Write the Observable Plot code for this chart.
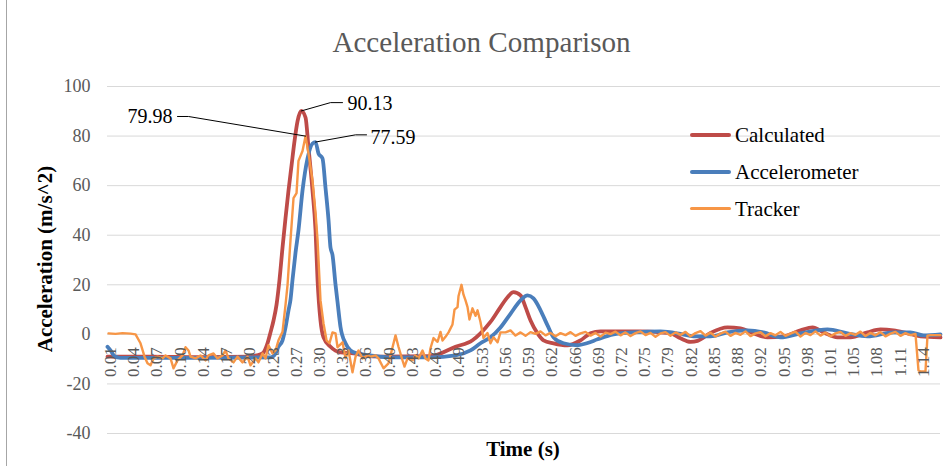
<!DOCTYPE html>
<html>
<head>
<meta charset="utf-8">
<script src="https://cdn.jsdelivr.net/npm/d3@7"></script>
<script src="https://cdn.jsdelivr.net/npm/@observablehq/plot@0.6"></script>
<style>
  html, body { margin: 0; padding: 0; background: #fff; }
  #wrap { position: relative; width: 943px; height: 466px; overflow: hidden; font-family: "Liberation Serif", serif; }
  #wrap .abs { position: absolute; white-space: nowrap; }
  #title { left: 0; width: 963px; top: 25px; text-align: center; font-size: 30px; color: #595959; line-height: 34px; transform: scaleX(0.97); }
  #ylab { left: 45px; top: 259px; transform: translate(-50%, -50%) rotate(-90deg); font-size: 21px; font-weight: bold; color: #000; }
  #xlab { left: 523px; top: 449px; transform: translate(-50%, -50%); font-size: 21px; font-weight: bold; color: #000; }
  .leg-line { position: absolute; left: 690px; width: 41px; border-radius: 2px; }
  .leg-text { position: absolute; left: 735px; font-size: 21px; color: #000; line-height: 24px; }
  #border { position: absolute; left: 6px; top: 0; width: 1px; height: 466px; background: #a6a6a6; }
</style>
</head>
<body>
<div id="wrap">
  <div id="chart"></div>
  <div id="border"></div>
  <div id="title" class="abs">Acceleration Comparison</div>
  <div id="ylab" class="abs">Acceleration (m/s^2)</div>
  <div id="xlab" class="abs">Time (s)</div>
  <div id="legend"></div>
</div>
<script>
// ---- Data (time in s, acceleration in m/s^2) ----
const seriesNames = ["Calculated", "Accelerometer", "Tracker"];
const seriesColors = ["#BE4B48", "#4A7EBB", "#F79646"];

const calculated = [
  [0.0058,-9],[0.0656,-9],[0.1351,-9.2],[0.2046,-9],[0.2130,-8.5],[0.2213,-7.7],[0.2282,-3.6],[0.2324,0.8],
  [0.2366,5.6],[0.2408,12],[0.2449,22],[0.2491,35],[0.2533,47],[0.2574,58],[0.2616,68],[0.2658,78],
  [0.2700,86],[0.2751,90.13],[0.2811,87.5],[0.2852,75.4],[0.2908,58],[0.2950,42],[0.2978,22],[0.3019,5.6],
  [0.3061,-1.2],[0.3158,-5],[0.3297,-7.3],[0.3478,-7.7],[0.3617,-8.5],[0.3853,-9],[0.4548,-8.8],[0.4896,-5],
  [0.5132,-2.4],[0.5243,0.4],[0.5382,5],[0.5521,11],[0.5619,15],[0.5702,17],[0.5800,15.7],[0.5869,11],
  [0.5939,5.6],[0.6036,0.4],[0.6119,-2.4],[0.6258,-3.6],[0.6452,-4.4],[0.6634,-2.4],[0.6772,0.4],[0.6912,1.2],
  [0.7190,1.2],[0.7468,1.2],[0.7746,0.8],[0.7885,0.4],[0.8024,-1.6],[0.8163,-3],[0.8260,-2.6],[0.8441,0.6],
  [0.8677,2.8],[0.8858,2.4],[0.9039,0.4],[0.9233,-1.2],[0.9455,-0.8],[0.9692,1.6],[0.9859,2.8],[1.0011,0.8],
  [1.0206,-1.2],[1.0387,-1.2],[1.0623,0.8],[1.0804,2],[1.0985,1.6],[1.1179,0.4],[1.1360,-0.8],[1.1638,-1.2]
];

const accelerometer = [
  [0.0058,-5],[0.0100,-6.5],[0.0156,-8.8],[0.0239,-9.5],[0.1351,-9.5],[0.2324,-9.3],[0.2394,-7.7],[0.2435,-5],
  [0.2491,-2.4],[0.2533,2.8],[0.2574,9.7],[0.2602,14],[0.2630,22],[0.2672,33],[0.2713,42],[0.2769,58],
  [0.2839,71],[0.2908,77],[0.2950,77.59],[0.2991,73],[0.3047,71],[0.3089,59],[0.3131,46],[0.3158,35],
  [0.3186,32],[0.3228,20],[0.3256,13],[0.3297,3],[0.3367,-3.6],[0.3436,-6.5],[0.3533,-7.7],[0.3714,-8.5],
  [0.3992,-9.3],[0.4548,-9.3],[0.4896,-8.5],[0.5104,-6.5],[0.5243,-3.6],[0.5382,-1.2],[0.5521,2.8],[0.5660,8.3],
  [0.5800,13.7],[0.5897,15.7],[0.5980,14.5],[0.6078,9.7],[0.6175,3.6],[0.6258,-1.2],[0.6397,-3.6],[0.6592,-4.4],
  [0.6731,-3.5],[0.6870,-2],[0.7092,0],[0.7370,0.8],[0.7746,1.2],[0.8024,0.2],[0.8205,-0.8],[0.8441,-0.8],
  [0.8677,0.8],[0.8956,1.6],[0.9178,0.8],[0.9414,-1.2],[0.9692,0.4],[1.0067,2],[1.0345,0.4],[1.0623,-0.8],
  [1.0985,0.8],[1.1221,0.8],[1.1401,-0.4],[1.1638,0]
];

const trackerHead = [
  [0.0072,0.4],[0.0170,0.2],[0.0267,0.5],[0.0378,0.3],[0.0448,0],[0.0517,-3.6],[0.0573,-9],[0.0614,-11.7],
  [0.0656,-12.5],[0.0698,-9.7],[0.0753,-9],[0.0823,-9.7],[0.0865,-8.5],[0.0934,-9.7],[0.0976,-13.7],[0.1031,-10.5],
  [0.1101,-8.5],[0.1143,-5.2],[0.1184,-6.5],[0.1212,-9],[0.1282,-9.7],[0.1351,-8.5],[0.1421,-10.5],[0.1462,-8.5],
  [0.1532,-7.7],[0.1587,-9.7],[0.1657,-8.5],[0.1699,-6.5],[0.1740,-9.7],[0.1810,-11.3],[0.1865,-9],[0.1935,-11.3],
  [0.2004,-9],[0.2046,-12.5],[0.2116,-9.7],[0.2157,-11.3],[0.2213,-7.7],[0.2255,-9.7],[0.2296,-4.4],[0.2352,-7.7],
  [0.2394,-6.5],[0.2435,-2.4],[0.2491,1],[0.2533,12],[0.2561,20],[0.2602,38],[0.2644,55],[0.2686,57],
  [0.2713,70],[0.2769,74],[0.2811,79.98],[0.2852,73],[0.2908,62],[0.2950,49],[0.2978,38],[0.3005,22],
  [0.3019,13.7],[0.3061,4.4],[0.3103,-2.4],[0.3144,-3.6],[0.3186,0.8],[0.3228,0.4],[0.3256,-5.2],[0.3325,-3.2],
  [0.3367,-9.7],[0.3408,-6.5],[0.3464,-15.3],[0.3506,-9],[0.3547,-6.5],[0.3603,-9.7],[0.3673,-8.5],[0.3714,-9],
  [0.3784,-8.5],[0.3825,-9.7],[0.3895,-13.7],[0.3964,-11.7],[0.3992,-8.5],[0.4062,-0.4],[0.4103,-5],[0.4159,-10.5],
  [0.4187,-13],[0.4229,-9.7],[0.4298,-10.5],[0.4340,-8.5],[0.4381,-9.7],[0.4437,-6.5],[0.4479,-9.7],[0.4520,-10.5],
  [0.4548,-5.6],[0.4590,-1.5],[0.4646,-3],[0.4687,1],[0.4715,-2.5],[0.4757,-1],[0.4799,0.8],[0.4854,4],
  [0.4882,10],[0.4924,11],[0.4938,15.5],[0.4979,20],[0.5007,16],[0.5035,13.7],[0.5063,11],[0.5090,6],
  [0.5132,10.5],[0.5174,7.5],[0.5202,9.7],[0.5243,5],[0.5285,-1.5],[0.5341,0.5],[0.5382,-3.6],[0.5424,-1.2],
  [0.5480,-3.2],[0.5521,0.8]
];
// uniformly sampled settled part of the tracker series
const trackerTailStart = 0.5591;
const trackerTailStep = 0.00695;
const trackerTailValues = [
  0.8,1.6,-0.5,0.8,-0.6,0.9,0.2,1.2,-0.4,0.6,-0.8,0.5,-0.3,0.9,-0.6,0.4,1.0,-0.5,0.6,-0.9,
  0.7,0.1,1.1,-0.4,0.8,-0.7,0.5,1.2,-0.3,0.6,-1.0,0.4,0.9,-0.6,0.8,-0.2,1.0,-0.8,0.5,1.3,
  -0.5,0.7,-0.9,0.3,1.1,-0.6,0.6,-0.2,1.2,-0.7,0.4,0.9,-0.8,0.5,-0.4,1.0,-0.6,0.3,1.1,-0.9,
  0.6,-0.3,1.2,-0.5,0.7,-0.8,0.4,1.0,-0.6,0.5,-0.2,1.1,-0.7,0.6,-0.4,0.9,-0.8,0.3,1.0,-0.6,
  0.5,-0.3,0.2
];
const trackerEnd = [[1.1332,-14.5],[1.1360,-15],[1.1429,-15],[1.1457,-0.5],[1.1499,-0.3],[1.1638,-0.3]];

const xTickLabels = ["0.01","0.04","0.07","0.10","0.14","0.17","0.20","0.23","0.27","0.30","0.33","0.36",
  "0.40","0.43","0.46","0.49","0.53","0.56","0.59","0.62","0.66","0.69","0.72","0.75","0.79","0.82",
  "0.85","0.88","0.92","0.95","0.98","1.01","1.05","1.08","1.11","1.14"];
const xTickFirst = 0.01, xTickStep = 0.03229;
const yTicks = [-40, -20, 0, 20, 40, 60, 80, 100];

// peak annotations
const annoText = ["90.13", "77.59", "79.98"];
const annoPeak = [[0.2751, 90.13], [0.2950, 77.59], [0.2811, 79.98]];
const annoElbow = [[0.3158, 93.5], [0.3506, 80.5], [0.1184, 87.9]];
const annoEnd = [[0.3325, 93.5], [0.3659, 80.5], [0.1031, 87.9]];
const annoLabel = [[0.3395, 93.3], [0.3714, 79.2], [0.0962, 87.9]];
const annoAnchor = ["start", "start", "end"];

// ---- Build tables ----
const toRows = (arr, s) => arr.map(([t, v]) => ({t, v, s}));
const tracker = trackerHead
  .concat(trackerTailValues.map((v, i) => [trackerTailStart + i * trackerTailStep, v]))
  .concat(trackerEnd);
const calcRows = toRows(calculated, seriesNames[0]);
const accRows = toRows(accelerometer, seriesNames[1]);
const trkRows = toRows(tracker, seriesNames[2]);
const ticks = xTickLabels.map((label, i) => ({t: xTickFirst + i * xTickStep, label}));
const leaders = annoText.flatMap((txt, i) => [
  {t: annoPeak[i][0], v: annoPeak[i][1], k: txt},
  {t: annoElbow[i][0], v: annoElbow[i][1], k: txt},
  {t: annoEnd[i][0], v: annoEnd[i][1], k: txt}
]);
const labels = annoText.map((txt, i) => ({t: annoLabel[i][0], v: annoLabel[i][1], txt, a: annoAnchor[i]}));

const chart = Plot.plot({
  width: 943,
  height: 466,
  marginLeft: 107,
  marginRight: 3,
  marginTop: 86,
  marginBottom: 33,
  style: {fontFamily: "'Liberation Serif', serif", background: "transparent", overflow: "visible"},
  x: {domain: [0.0058, 1.1638], axis: null},
  y: {domain: [-40, 100], axis: null},
  marks: [
    Plot.ruleY(yTicks, {stroke: "#d9d9d9", strokeWidth: 1}),
    Plot.text(yTicks, {y: d => d, frameAnchor: "left", dx: -17, textAnchor: "end", text: d => String(d), fill: "#595959", fontSize: 18}),
    Plot.line(calcRows, {x: "t", y: "v", stroke: seriesColors[0], strokeWidth: 3.8, curve: "monotone-x", strokeLinejoin: "round", strokeLinecap: "round"}),
    Plot.line(accRows, {x: "t", y: "v", stroke: seriesColors[1], strokeWidth: 3.8, curve: "monotone-x", strokeLinejoin: "round", strokeLinecap: "round"}),
    Plot.line(trkRows, {x: "t", y: "v", stroke: seriesColors[2], strokeWidth: 2.4, curve: "linear", strokeLinejoin: "round"}),
    Plot.text(ticks, {x: "t", y: () => 0, text: "label", rotate: -90, textAnchor: "end", dy: 13, fill: "#595959", fontSize: 17}),
    Plot.line(leaders, {x: "t", y: "v", z: "k", stroke: "#000", strokeWidth: 1}),
    Plot.text(labels.filter(d => d.a === "start"), {x: "t", y: "v", text: "txt", textAnchor: "start", fill: "#000", fontSize: 20}),
    Plot.text(labels.filter(d => d.a === "end"), {x: "t", y: "v", text: "txt", textAnchor: "end", fill: "#000", fontSize: 20})
  ]
});
document.getElementById("chart").appendChild(chart);

// legend
const legend = document.getElementById("legend");
const legY = [135, 172, 208.5];
const legW = [3.8, 3.8, 2.6];
seriesNames.forEach((name, i) => {
  const line = document.createElement("div");
  line.className = "leg-line";
  line.style.top = (legY[i] - legW[i] / 2) + "px";
  line.style.height = legW[i] + "px";
  line.style.background = seriesColors[i];
  legend.appendChild(line);
  const txt = document.createElement("div");
  txt.className = "leg-text";
  txt.style.top = (legY[i] - 12) + "px";
  txt.textContent = name;
  legend.appendChild(txt);
});
</script>
</body>
</html>
